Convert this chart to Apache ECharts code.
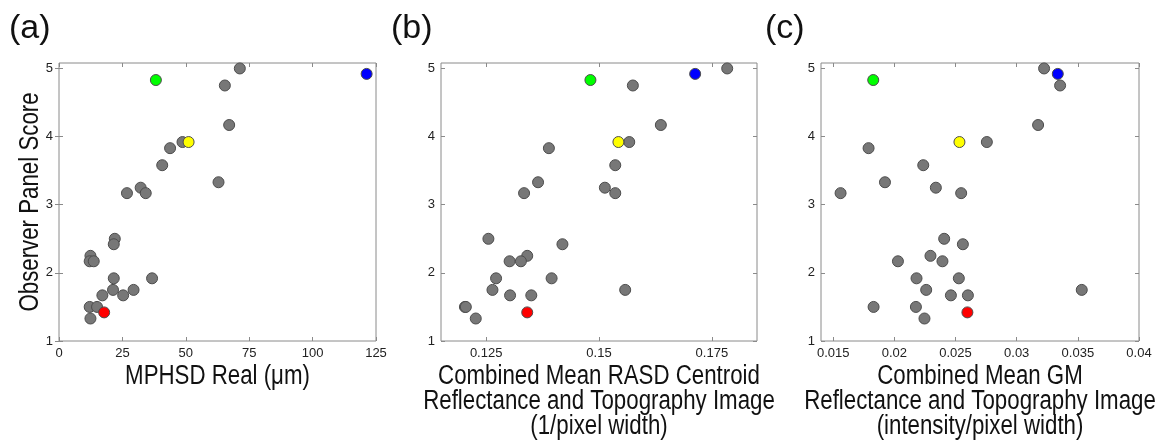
<!DOCTYPE html>
<html>
<head>
<meta charset="utf-8">
<script src="https://cdn.jsdelivr.net/npm/echarts@6/dist/echarts.min.js"></script>
<style>
  html, body { margin: 0; padding: 0; background: #fff; }
  #chart { width: 1174px; height: 440px; }
</style>
</head>
<body>
<div id="chart"></div>
<script>
// Observer panel scores (mean of 12 ratings) for the grey samples
const grayScore = [5.0, 4.75, 4.17, 3.92, 3.83, 3.58, 3.33, 3.25, 3.17, 3.17, 2.5, 2.42,
                   2.25, 2.17, 2.17, 1.92, 1.92, 1.75, 1.75, 1.67, 1.67, 1.5, 1.5, 1.33];
// Matching metric values for the grey samples
const grayMphsd = [71.3, 65.4, 67.1, 48.7, 43.8, 40.7, 62.9, 32.2, 26.8, 34.2, 22.0, 21.6,
                   12.4, 12.1, 13.7, 21.6, 36.7, 21.3, 29.4, 17.1, 25.3, 12.1, 15.0, 12.4];
const grayRasd = [0.1784, 0.1575, 0.1637, 0.1567, 0.1389, 0.1536, 0.1365, 0.1513, 0.1334, 0.1536, 0.1255, 0.1419,
                  0.1341, 0.1302, 0.1327, 0.1272, 0.1395, 0.1264, 0.1558, 0.1303, 0.1350, 0.1203, 0.1205, 0.1227];
const grayGm = [0.03224, 0.03355, 0.03175, 0.02756, 0.01789, 0.02236, 0.01923, 0.02339, 0.0156, 0.02546, 0.02407, 0.0256,
                0.02295, 0.02029, 0.02393, 0.02181, 0.02527, 0.0226, 0.03532, 0.02462, 0.02601, 0.0183, 0.02176, 0.02246];

// Highlighted samples: blue, green, yellow, red
const hlScore = [4.92, 4.83, 3.92, 1.42];
const hlMphsd = [121.3, 38.2, 51.1, 17.8];
const hlRasd = [0.1713, 0.1481, 0.1543, 0.1341];
const hlGm = [0.03336, 0.01827, 0.02532, 0.02597];
const hlColors = ['#0000ff', '#00ff00', '#ffff00', '#ff0000'];

// Tick values and labels
const scoreTicks = [1, 2, 3, 4, 5];
const mphsdTicks = [0, 25, 50, 75, 100, 125];
const rasdTicks = [0.125, 0.15, 0.175];
const gmTicks = [0.015, 0.02, 0.025, 0.03, 0.035, 0.04];

const panelLabels = ['(a)', '(b)', '(c)'];
const xTitles = [
  'MPHSD Real (\u03bcm)',
  'Combined Mean RASD Centroid\nReflectance and Topography Image\n(1/pixel width)',
  'Combined Mean GM\nReflectance and Topography Image\n(intensity/pixel width)'
];
const yTitle = 'Observer Panel Score';

const TITLE_FONT = '"Liberation Sans", Arial, sans-serif';
const TICK_FONT = '"Liberation Sans", Arial, sans-serif';
const FRAME = '#8a8a8a';
// titles use a condensed look: horizontally squeezed text
const NARROW = 0.825;

const chart = echarts.init(document.getElementById('chart'), null, { renderer: 'canvas' });

const gridBoxes = [
  { left: 59, top: 63, width: 317, height: 278 },
  { left: 441, top: 63, width: 316, height: 278 },
  { left: 821, top: 63, width: 318, height: 278 }
];
const grids = gridBoxes.map(g => Object.assign({ show: true, borderColor: FRAME, borderWidth: 1, backgroundColor: '#fff' }, g));

const xRanges = [[0, 125], [0.115, 0.185], [0.014, 0.04]];
const xTicks = [mphsdTicks, rasdTicks, gmTicks];
const xData = [[grayMphsd, hlMphsd], [grayRasd, hlRasd], [grayGm, hlGm]];

const xAxes = [];
const yAxes = [];
const series = [];
const graphics = [];

for (let i = 0; i < 3; i++) {
  const ticks = xTicks[i];
  const box = gridBoxes[i];
  xAxes.push({
    type: 'value', gridIndex: i, position: 'bottom',
    min: xRanges[i][0], max: xRanges[i][1],
    axisLine: { show: false }, splitLine: { show: false },
    axisTick: { inside: true, length: 4, customValues: ticks, lineStyle: { color: FRAME } },
    axisLabel: { customValues: ticks, fontFamily: TICK_FONT, fontSize: 13, color: '#222', margin: 6 }
  });
  xAxes.push({
    type: 'value', gridIndex: i, position: 'top',
    min: xRanges[i][0], max: xRanges[i][1],
    axisLine: { show: false }, splitLine: { show: false },
    axisTick: { inside: true, length: 4, customValues: ticks, lineStyle: { color: FRAME } },
    axisLabel: { show: false }
  });
  yAxes.push({
    type: 'value', gridIndex: i, position: 'left',
    min: 1, max: 5.08,
    axisLine: { show: false }, splitLine: { show: false },
    axisTick: { inside: true, length: 4, customValues: scoreTicks, lineStyle: { color: FRAME } },
    axisLabel: { customValues: scoreTicks, fontFamily: TICK_FONT, fontSize: 13, color: '#222', margin: 6 }
  });
  yAxes.push({
    type: 'value', gridIndex: i, position: 'right',
    min: 1, max: 5.08,
    axisLine: { show: false }, splitLine: { show: false },
    axisTick: { inside: true, length: 4, customValues: scoreTicks, lineStyle: { color: FRAME } },
    axisLabel: { show: false }
  });

  const [gx, hx] = xData[i];
  series.push({
    type: 'scatter', xAxisIndex: 2 * i, yAxisIndex: 2 * i,
    symbol: 'circle', symbolSize: 11,
    itemStyle: { color: '#777777', borderColor: '#4d4d4d', borderWidth: 1, opacity: 1 },
    emphasis: { disabled: true },
    data: gx.map((v, k) => [v, grayScore[k]]),
    z: 2
  });
  series.push({
    type: 'scatter', xAxisIndex: 2 * i, yAxisIndex: 2 * i,
    symbol: 'circle', symbolSize: 11,
    itemStyle: {
      color: p => hlColors[p.dataIndex],
      borderColor: '#4d4d4d', borderWidth: 1, opacity: 1
    },
    emphasis: { disabled: true },
    data: hx.map((v, k) => [v, hlScore[k]]),
    z: 3
  });

  // x-axis title under each panel
  graphics.push({
    type: 'text', x: box.left + box.width / 2, y: 364, scaleX: NARROW,
    style: {
      text: xTitles[i], font: '27px ' + TITLE_FONT, lineHeight: 25,
      fill: '#111', align: 'center', verticalAlign: 'top'
    }
  });
  // panel letter
  graphics.push({
    type: 'text', x: [9, 391, 765][i], y: 12,
    style: { text: panelLabels[i], font: '34px ' + TITLE_FONT, fill: '#111', align: 'left', verticalAlign: 'top' }
  });
}

// shared y-axis title, left of panel (a)
graphics.push({
  type: 'text', x: 31, y: 202, rotation: Math.PI / 2, scaleX: NARROW,
  style: { text: yTitle, font: '27px ' + TITLE_FONT, fill: '#111', align: 'center', verticalAlign: 'middle' }
});

chart.setOption({
  animation: false,
  backgroundColor: '#fff',
  grid: grids,
  xAxis: xAxes,
  yAxis: yAxes,
  series: series,
  graphic: graphics
});
</script>
</body>
</html>
